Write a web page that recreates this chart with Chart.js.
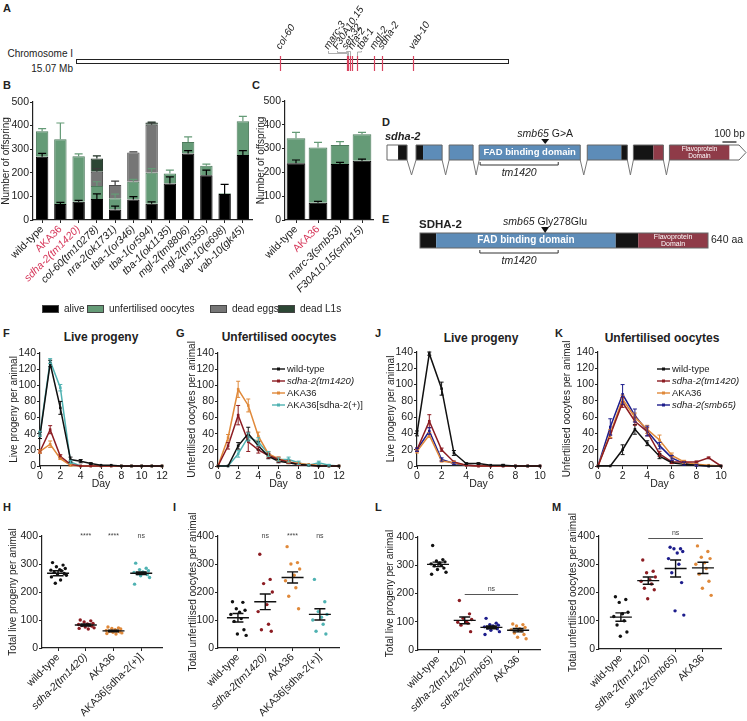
<!DOCTYPE html>
<html>
<head>
<meta charset="utf-8">
<title>sdha-2 figure</title>
<script src="https://cdn.jsdelivr.net/npm/chart.js@4.4.1/dist/chart.umd.min.js"></script>
<style>
body { margin: 0; background: #fff; }
#fig { position: relative; width: 747px; height: 721px; overflow: hidden; font-family: 'Liberation Sans', Arial, sans-serif; color: #222; }
#fig canvas { position: absolute; }
.lbl { position: absolute; font-size: 11px; line-height: 11px; font-weight: bold; }
.ttl { position: absolute; font-size: 12px; line-height: 12px; font-weight: bold; white-space: nowrap; transform: translateX(-50%); }
.txt { position: absolute; font-size: 10px; line-height: 10px; white-space: nowrap; text-align: right; }
.leg { position: absolute; top: 305px; font-size: 10px; line-height: 8px; white-space: nowrap; }
.leg span { display: inline-block; width: 15px; height: 6px; vertical-align: top; margin-right: 5px; border: 1px solid #444; }
</style>
</head>
<body>
<div id="fig">
  <div class="lbl" style="left:3px;top:3px">A</div>
  <div class="lbl" style="left:3px;top:80px">B</div>
  <div class="lbl" style="left:252px;top:80px">C</div>
  <div class="lbl" style="left:382px;top:117px">D</div>
  <div class="lbl" style="left:382px;top:214px">E</div>
  <div class="lbl" style="left:3px;top:328px">F</div>
  <div class="lbl" style="left:176px;top:328px">G</div>
  <div class="lbl" style="left:375px;top:328px">J</div>
  <div class="lbl" style="left:555px;top:328px">K</div>
  <div class="lbl" style="left:3px;top:502px">H</div>
  <div class="lbl" style="left:173px;top:502px">I</div>
  <div class="lbl" style="left:375px;top:502px">L</div>
  <div class="lbl" style="left:552px;top:502px">M</div>

  <div class="txt" style="right:674px;top:49px">Chromosome I</div>
  <div class="txt" style="right:674px;top:64px">15.07 Mb</div>

  <div class="ttl" style="left:101px;top:331px">Live progeny</div>
  <div class="ttl" style="left:279px;top:331px">Unfertilised oocytes</div>
  <div class="ttl" style="left:481px;top:332px">Live progeny</div>
  <div class="ttl" style="left:662px;top:332px">Unfertilised oocytes</div>
</div>

<script>
// ---------- data ----------
// A: gene positions on chromosome I (Mb)
var chromLengthMb = 15.07;
var geneNames = ['col-60', 'marc-3', 'F30A10.15', 'set-32', 'nra-2', 'tba-1', 'mgl-2', 'sdha-2', 'vab-10'];
var genePosMb = [7.12, 9.45, 9.50, 9.55, 9.63, 9.80, 10.40, 10.67, 11.76];

// B: offspring per strain (stacked)
var strainsB = ['wild-type', 'AKA36', 'sdha-2(tm1420)', 'col-60(tm10278)', 'nra-2(ok1731)', 'tba-1(or346)',
  'tba-1(or594)', 'tba-1(ok1135)', 'mgl-2(tm8806)', 'mgl-2(tm355)', 'vab-10(e698)', 'vab-10(gk45)'];
var aliveB = [268, 68, 77, 89, 45, 87, 69, 155, 282, 190, 110, 275];
var aliveErrB = [14, 7, 6, 22, 14, 12, 8, 28, 12, 21, 41, 19];
var unfertB = [108, 274, 193, 55, 47, 75, 131, 42, 49, 40, 3, 143];
var unfertErrB = [11, 69, 10, 18, 18, 10, 18, 14, 21, 7, 0, 21];
var deadEggsB = [0, 0, 0, 60, 56, 124, 204, 0, 0, 0, 0, 0];
var deadEggsErrB = [0, 0, 0, 14, 17, 3, 7, 0, 0, 0, 0, 0];
var deadL1B = [0, 0, 0, 57, 0, 0, 9, 0, 0, 0, 0, 0];
var deadL1ErrB = [0, 0, 0, 11, 0, 0, 2, 0, 0, 0, 0, 0];

// C
var strainsC = ['wild-type', 'AKA36', 'marc-3(smb53)', 'F30A10.15(smb15)'];
var aliveC = [238, 73, 235, 249];
var aliveErrC = [14, 5, 7, 7];
var unfertC = [105, 232, 80, 111];
var unfertErrC = [25, 21, 14, 8];

// D / E: sdha-2 gene model (bp) and SDHA-2 protein (aa)
var exonsD = [[0, 143], [207, 393], [443, 614], [657, 1378], [1428, 1714], [1757, 1971], [2014, 2560]];
var partsD = [[0, 79, 'utr'], [79, 143, 'cds'], [207, 257, 'cds'], [257, 393, 'fad'], [443, 614, 'fad'],
  [657, 1378, 'fad'], [1428, 1671, 'fad'], [1671, 1714, 'cds'], [1757, 1900, 'cds'], [1900, 1971, 'flavo'],
  [2014, 2443, 'flavo'], [2443, 2560, 'utr']];
var smb65Bp = 1128;
var tm1420Bp = [664, 1221];
var scaleBarBp = [2392, 2492];
var partsE = [[0, 36, 'cds'], [36, 435, 'fad'], [435, 485, 'cds'], [485, 640, 'flavo']];
var smb65Aa = 278;
var tm1420Aa = [133, 307];
var proteinLength = 640;

// F / G: per-day counts, tm1420 complementation
var daysFG = [0, 1, 2, 3, 4, 5, 6, 7, 8, 9, 10, 11, 12];
var groupsFG = ['wild-type', 'sdha-2(tm1420)', 'AKA36', 'AKA36[sdha-2(+)]'];
var liveF = [
  [38, 127, 72, 8, 6, 3, 1, 1, 0, 0, 0, 0, 0],
  [18, 45, 12, 2, 0, 0, 0, 0, 0, 0, 0, 0, 0],
  [18, 27, 9, 1, 0, 0, 0, 0, 0, 0, 0, 0, 0],
  [40, 130, 97, 5, 0, 0, 0, 0, 0, 0, 0, 0, 0]
];
var liveErrF = [
  [4, 4, 8, 3, 2, 1, 0, 0, 0, 0, 0, 0, 0],
  [2, 5, 2, 1, 0, 0, 0, 0, 0, 0, 0, 0, 0],
  [2, 4, 1, 1, 0, 0, 0, 0, 0, 0, 0, 0, 0],
  [3, 3, 4, 2, 0, 0, 0, 0, 0, 0, 0, 0, 0]
];
var unfertG = [
  [0, 0, 25, 40, 25, 12, 6, 4, 2, 1, 0, 0, 0],
  [0, 25, 63, 30, 20, 13, 8, 5, 2, 1, 0, 0, 0],
  [0, 35, 95, 75, 37, 15, 9, 5, 3, 2, 1, 0, 0],
  [0, 0, 15, 36, 30, 15, 8, 8, 4, 1, 4, 1, 0]
];
var unfertErrG = [
  [0, 0, 4, 8, 5, 3, 2, 1, 1, 0, 0, 0, 0],
  [0, 4, 12, 12, 4, 3, 3, 2, 1, 0, 0, 0, 0],
  [0, 4, 10, 8, 5, 3, 2, 1, 1, 0, 0, 0, 0],
  [0, 0, 4, 5, 5, 3, 2, 3, 2, 1, 2, 1, 0]
];

// J / K: per-day counts, smb65 allele
var daysJK = [0, 1, 2, 3, 4, 5, 6, 7, 8, 9, 10];
var groupsJK = ['wild-type', 'sdha-2(tm1420)', 'AKA36', 'sdha-2(smb65)'];
var liveJ = [
  [40, 138, 95, 16, 3, 3, 1, 1, 0, 0, 0],
  [20, 55, 20, 5, 1, 0, 0, 0, 0, 0, 0],
  [18, 38, 6, 4, 1, 0, 0, 0, 0, 0, 0],
  [20, 43, 8, 3, 1, 0, 0, 0, 0, 0, 0]
];
var liveErrJ = [
  [3, 2, 8, 3, 1, 1, 0, 1, 0, 0, 0],
  [2, 8, 2, 1, 0, 0, 0, 0, 0, 0, 0],
  [2, 3, 1, 1, 0, 0, 0, 0, 0, 0, 0],
  [2, 4, 2, 1, 0, 0, 0, 0, 0, 0, 0]
];
var unfertK = [
  [0, 0, 20, 45, 28, 12, 4, 2, 1, 0, 0],
  [0, 38, 78, 55, 42, 15, 5, 5, 5, 10, 0],
  [0, 40, 82, 60, 45, 32, 13, 5, 2, 1, 0],
  [0, 48, 88, 62, 43, 25, 10, 3, 1, 0, 0]
];
var unfertErrK = [
  [0, 0, 6, 6, 3, 3, 1, 1, 0, 0, 0],
  [0, 4, 6, 5, 5, 3, 2, 1, 1, 1, 0],
  [0, 5, 5, 5, 5, 6, 3, 2, 1, 0, 0],
  [0, 10, 12, 8, 6, 4, 3, 2, 1, 0, 0]
];

// H / I / L / M: totals per animal
var groupsHI = ['wild-type', 'sdha-2(tm1420)', 'AKA36', 'AKA36[sdha-2(+)]'];
var groupsLM = ['wild-type', 'sdha-2(tm1420)', 'sdha-2(smb65)', 'AKA36'];
var totalLiveH = [
  [305, 296, 290, 284, 280, 278, 276, 270, 266, 264, 260, 254, 243, 231],
  [100, 97, 93, 88, 86, 84, 82, 80, 78, 75, 72, 70, 68],
  [75, 72, 70, 68, 65, 63, 61, 60, 58, 56, 54, 52, 50],
  [303, 285, 280, 276, 272, 270, 268, 265, 262, 258, 252, 228]
];
var meanH = [267, 82, 61, 267];
var semH = [9, 4, 3, 5];
var sigH = ['', '****', '****', 'ns'];
var totalUnfertI = [
  [165, 163, 140, 135, 128, 120, 105, 95, 65, 50, 45],
  [335, 245, 230, 200, 155, 130, 85, 65, 60],
  [362, 305, 300, 282, 260, 240, 215, 185, 140],
  [245, 165, 130, 120, 110, 100, 85, 60, 50]
];
var meanI = [108, 165, 252, 120];
var semI = [15, 28, 20, 20];
var sigI = ['', 'ns', '****', 'ns'];
var totalLiveL = [
  [370, 320, 315, 312, 308, 305, 300, 298, 290, 285, 275, 268],
  [175, 128, 112, 108, 100, 98, 95, 88, 65],
  [112, 95, 90, 88, 85, 82, 80, 78, 75, 70, 65, 55],
  [92, 90, 85, 80, 75, 72, 68, 60, 55, 45, 40]
];
var meanL = [303, 105, 80, 70];
var semL = [8, 12, 5, 6];
var totalUnfertM = [
  [185, 175, 165, 130, 125, 115, 100, 85, 60, 45],
  [315, 275, 270, 255, 245, 240, 230, 215, 210, 178],
  [360, 355, 355, 345, 340, 320, 300, 270, 235, 135, 120],
  [365, 345, 325, 320, 305, 300, 285, 265, 240, 215, 190]
];
var meanM = [113, 242, 285, 287];
var semM = [15, 13, 30, 20];

// ---------- styles ----------
var FAMILY = "'Liberation Sans', Arial, sans-serif";
var INK = '#222';
var RED_TXT = '#d6375a';
var C_WT = '#111111', C_TM = '#8c1c22', C_AKA = '#e0893a', C_RESC = '#4fb2b2', C_SMB = '#1d1d8c';
var C_ALIVE = '#000000', C_UNF = '#659b77', C_EGG = '#767676', C_L1 = '#2c4634';
var DOM = { utr: '#ffffff', cds: '#141414', fad: '#5d8cb8', flavo: '#8f3b48' };
// layout offsets for the chromosome labels (px) and dot jitter (in category units)
var geneLabelDx = [0, -19, -11, -4, 0, 4, 0, 0, 0];
var geneLeaderY = [0, 53.5, 52.5, 51.5, 0, 52, 0, 0, 0];
var jitter = [-0.2, 0.18, -0.06, 0.26, 0.06, -0.26, 0.12, -0.14, 0.22, -0.02, 0.3, -0.24, 0.09, -0.1];

Chart.defaults.font.family = FAMILY;
Chart.defaults.font.size = 10;
Chart.defaults.color = INK;
Chart.defaults.animation = false;
Chart.defaults.responsive = false;
Chart.defaults.devicePixelRatio = 1;
Chart.defaults.plugins.legend.display = false;
Chart.defaults.plugins.tooltip.enabled = false;

var fig = document.getElementById('fig');

function makeCanvas(box) {
  var c = document.createElement('canvas');
  c.width = box.w; c.height = box.h;
  c.style.left = box.x + 'px'; c.style.top = box.y + 'px';
  c.style.width = box.w + 'px'; c.style.height = box.h + 'px';
  fig.appendChild(c);
  return c;
}

// padding so that the plot area lands on page coordinates
function pad(box, area) {
  return { left: 0, top: area.top - box.y, right: box.x + box.w - area.right, bottom: 0 };
}

function yAxis(max, step, width) {
  return {
    min: 0, max: max,
    ticks: { stepSize: step, padding: 1, color: INK, font: { size: 10.5 } },
    grid: { drawOnChartArea: false, tickLength: 3, color: INK, lineWidth: 1 },
    border: { color: INK, width: 1.2 },
    afterFit: function(s) { s.width = width; s.paddingTop = 0; s.paddingBottom = 0; }
  };
}

// y axis title drawn at full length (the built-in one squeezes long text)
function yTitle(text) {
  return {
    id: 'yTitle',
    afterDraw: function(chart) {
      var ctx = chart.ctx, a = chart.chartArea;
      ctx.save();
      ctx.translate(6, (a.top + a.bottom) / 2);
      ctx.rotate(-Math.PI / 2);
      ctx.font = '10px ' + FAMILY; ctx.fillStyle = INK;
      ctx.textAlign = 'center'; ctx.textBaseline = 'middle';
      ctx.fillText(text, 0, 0);
      ctx.restore();
    }
  };
}

function dayAxis(max, height) {
  return {
    type: 'linear', min: 0, max: max,
    ticks: { stepSize: 2, padding: 1, maxRotation: 0, color: INK, font: { size: 10.5 } },
    grid: { drawOnChartArea: false, tickLength: 3, color: INK, lineWidth: 1 },
    border: { color: INK, width: 1.2 },
    title: { display: true, text: 'Day', padding: 0, color: INK, font: { size: 10.5 } },
    afterFit: function(s) { s.height = height; s.paddingLeft = 0; s.paddingRight = 0; }
  };
}

function nameAxis(height, italic, red) {
  return {
    stacked: true,
    grid: { offset: false, drawOnChartArea: false, tickLength: 3, color: INK, lineWidth: 1 },
    border: { color: INK, width: 1.2 },
    ticks: {
      autoSkip: false, minRotation: 45, maxRotation: 45, padding: 0,
      color: function(c) { return red[c.index] ? RED_TXT : INK; },
      font: function(c) { return { size: 10.5, style: italic[c.index] ? 'italic' : 'normal' }; }
    },
    afterFit: function(s) { s.height = height; s.paddingLeft = 0; s.paddingRight = 0; }
  };
}

function groupAxis(labels, italic, min, max, height) {
  return {
    type: 'linear', min: min, max: max,
    afterBuildTicks: function(s) { s.ticks = labels.map(function(l, i) { return { value: i }; }); },
    grid: { drawOnChartArea: false, tickLength: 3, color: INK, lineWidth: 1 },
    border: { color: INK, width: 1.2 },
    ticks: {
      autoSkip: false, minRotation: 45, maxRotation: 45, padding: 0, color: INK,
      callback: function(v, i) { return labels[i]; },
      font: function(c) { return { size: 10.5, style: italic[c.index] ? 'italic' : 'normal' }; }
    },
    afterFit: function(s) { s.height = height; s.paddingLeft = 0; s.paddingRight = 0; }
  };
}

// error bars from dataset.errors, drawn on top of all marks
var errorBars = {
  id: 'errorBars',
  afterDatasetsDraw: function(chart) {
    var ctx = chart.ctx, y = chart.scales.y;
    chart.data.datasets.forEach(function(ds, di) {
      if (!ds.errors) return;
      var meta = chart.getDatasetMeta(di);
      ctx.save();
      ctx.strokeStyle = ds.errorColor || ds.borderColor;
      ctx.lineWidth = ds.errorWidth || 1.2;
      meta.data.forEach(function(el, i) {
        var e = ds.errors[i];
        if (!e) return;
        var len = y.getPixelForValue(0) - y.getPixelForValue(e);
        var top = el.y - len, bot = ds.upOnly ? el.y : el.y + len;
        var cap = ds.capWidth || 5;
        ctx.beginPath();
        ctx.moveTo(el.x, top); ctx.lineTo(el.x, bot);
        ctx.moveTo(el.x - cap / 2, top); ctx.lineTo(el.x + cap / 2, top);
        if (!ds.upOnly) { ctx.moveTo(el.x - cap / 2, bot); ctx.lineTo(el.x + cap / 2, bot); }
        ctx.stroke();
      });
      ctx.restore();
    });
  }
};

// legend inside the line panels
function lineLegend(dx, dy, rowH) {
  return {
    id: 'lineLegend',
    afterDraw: function(chart) {
      var ctx = chart.ctx, a = chart.chartArea;
      chart.data.datasets.forEach(function(ds, i) {
        var x = a.left + dx, y = a.top + dy + i * rowH;
        ctx.save();
        ctx.strokeStyle = ds.borderColor; ctx.lineWidth = 1.4;
        ctx.beginPath(); ctx.moveTo(x, y); ctx.lineTo(x + 13, y); ctx.stroke();
        ctx.fillStyle = ds.borderColor; ctx.fillRect(x + 5, y - 1.5, 3, 3);
        ctx.fillStyle = INK; ctx.textBaseline = 'middle'; ctx.textAlign = 'left';
        ctx.font = (ds.italic ? 'italic ' : '') + '9.5px ' + FAMILY;
        ctx.fillText(ds.label, x + 15, y);
        ctx.restore();
      });
    }
  };
}

// mean +- SEM and significance marks on the dot plots
function meanSem(means, sems, sig, bar) {
  return {
    id: 'meanSem',
    afterDatasetsDraw: function(chart) {
      var ctx = chart.ctx, xs = chart.scales.x, ys = chart.scales.y;
      ctx.save();
      ctx.strokeStyle = '#111'; ctx.lineWidth = 1.4;
      means.forEach(function(m, i) {
        var cx = xs.getPixelForValue(i);
        var my = ys.getPixelForValue(m);
        var hi = ys.getPixelForValue(m + sems[i]), lo = ys.getPixelForValue(m - sems[i]);
        ctx.beginPath();
        ctx.moveTo(cx - 11, my); ctx.lineTo(cx + 11, my);
        ctx.moveTo(cx, hi); ctx.lineTo(cx, lo);
        ctx.moveTo(cx - 5.5, hi); ctx.lineTo(cx + 5.5, hi);
        ctx.moveTo(cx - 5.5, lo); ctx.lineTo(cx + 5.5, lo);
        ctx.stroke();
      });
      ctx.fillStyle = '#444'; ctx.font = '7px ' + FAMILY;
      ctx.textAlign = 'center'; ctx.textBaseline = 'middle';
      if (sig) {
        sig.forEach(function(s, i) {
          if (s) ctx.fillText(s, xs.getPixelForValue(i), ys.getPixelForValue(400));
        });
      }
      if (bar) {
        var by = Math.round(ys.getPixelForValue(bar.y)) + 0.5;
        ctx.strokeStyle = '#555'; ctx.lineWidth = 1;
        ctx.beginPath();
        ctx.moveTo(xs.getPixelForValue(bar.from), by); ctx.lineTo(xs.getPixelForValue(bar.to), by);
        ctx.stroke();
        ctx.fillText(bar.text, (xs.getPixelForValue(bar.from) + xs.getPixelForValue(bar.to)) / 2, by - 5);
      }
      ctx.restore();
    }
  };
}

// ---------- A: chromosome ----------
var chromPlugin = {
  id: 'chrom',
  afterDraw: function(chart) {
    var ctx = chart.ctx, xs = chart.scales.x;
    var x0 = xs.getPixelForValue(0), x1 = xs.getPixelForValue(chromLengthMb);
    ctx.save();
    ctx.fillStyle = '#fff'; ctx.strokeStyle = '#222'; ctx.lineWidth = 1;
    ctx.fillRect(x0, 59, x1 - x0, 4);
    ctx.strokeRect(Math.round(x0) + 0.5, 59.5, Math.round(x1 - x0), 4);
    genePosMb.forEach(function(p, i) {
      var mx = Math.round(xs.getPixelForValue(p)) + 0.5;
      var lx = mx + geneLabelDx[i];
      if (geneLeaderY[i]) {
        ctx.strokeStyle = '#9a9a9a'; ctx.lineWidth = 0.8;
        ctx.beginPath();
        ctx.moveTo(lx, 51); ctx.lineTo(lx, geneLeaderY[i]);
        ctx.lineTo(mx, geneLeaderY[i]); ctx.lineTo(mx, 56);
        ctx.stroke();
      }
      ctx.strokeStyle = '#d94460'; ctx.lineWidth = 1.2;
      ctx.beginPath(); ctx.moveTo(mx, 56); ctx.lineTo(mx, 71); ctx.stroke();
      ctx.save();
      ctx.translate(lx, 50); ctx.rotate(-57 * Math.PI / 180);
      ctx.font = 'italic 10px ' + FAMILY; ctx.fillStyle = INK;
      ctx.textAlign = 'left'; ctx.textBaseline = 'alphabetic';
      ctx.fillText(geneNames[i], 0, 0);
      ctx.restore();
    });
    ctx.restore();
  }
};
new Chart(makeCanvas({ x: 0, y: 0, w: 520, h: 80 }), {
  type: 'scatter',
  data: { datasets: [{ data: genePosMb.map(function(p) { return { x: p, y: 0 }; }), pointRadius: 0 }] },
  options: {
    layout: { autoPadding: false, padding: { left: 76, right: 12, top: 0, bottom: 0 } },
    scales: { x: { display: false, min: 0, max: chromLengthMb }, y: { display: false, min: -1, max: 1 } }
  },
  plugins: [chromPlugin]
});

// ---------- B and C: stacked bars ----------
function barSet(label, data, errs, fill, edge, errColor) {
  return {
    label: label, data: data, errors: errs, upOnly: true, errorColor: errColor, capWidth: 8,
    backgroundColor: fill, borderColor: edge,
    borderWidth: function(c) { return c.raw ? 1 : 0; },
    barPercentage: 0.68, categoryPercentage: 1
  };
}

var boxB = { x: 0, y: 95, w: 256, h: 210 };
var areaB = { left: 33, right: 252, top: 102, bottom: 220 };
new Chart(makeCanvas(boxB), {
  type: 'bar',
  data: {
    labels: strainsB,
    datasets: [
      barSet('alive', aliveB, aliveErrB, C_ALIVE, '#000', '#000'),
      barSet('unfertilised oocytes', unfertB, unfertErrB, C_UNF, '#4d7a5c', C_UNF),
      barSet('dead eggs', deadEggsB, deadEggsErrB, C_EGG, '#4a4a4a', '#3a3a3a'),
      barSet('dead L1s', deadL1B, deadL1ErrB, C_L1, '#1c2e22', '#1c2e22')
    ]
  },
  options: {
    layout: { autoPadding: false, padding: pad(boxB, areaB) },
    scales: {
      x: nameAxis(boxB.y + boxB.h - areaB.bottom,
        [false, false, true, true, true, true, true, true, true, true, true, true],
        [false, true, true, false, false, false, false, false, false, false, false, false]),
      y: Object.assign(yAxis(500, 100, areaB.left - boxB.x), { stacked: true })
    }
  },
  plugins: [errorBars, yTitle('Number of offspring')]
});

var boxC = { x: 255, y: 95, w: 124, h: 210 };
var areaC = { left: 285, right: 373, top: 101, bottom: 220 };
var cBars = [
  barSet('alive', aliveC, aliveErrC, C_ALIVE, '#000', '#000'),
  barSet('unfertilised oocytes', unfertC, unfertErrC, C_UNF, '#4d7a5c', C_UNF)
];
cBars.forEach(function(d) { d.barPercentage = 0.85; });
new Chart(makeCanvas(boxC), {
  type: 'bar',
  data: { labels: strainsC, datasets: cBars },
  options: {
    layout: { autoPadding: false, padding: pad(boxC, areaC) },
    scales: {
      x: nameAxis(boxC.y + boxC.h - areaC.bottom, [false, false, true, true], [false, true, false, false]),
      y: Object.assign(yAxis(500, 100, areaC.left - boxC.x), { stacked: true })
    }
  },
  plugins: [errorBars, yTitle('Number of offspring')]
});

// legend under B and C
var legendLabels = ['alive', 'unfertilised oocytes', 'dead eggs', 'dead L1s'];
var legendFill = [C_ALIVE, C_UNF, C_EGG, C_L1];
var legendX = [42, 87, 210, 278];
legendLabels.forEach(function(l, i) {
  var d = document.createElement('div');
  d.className = 'leg';
  d.style.left = legendX[i] + 'px';
  d.innerHTML = '<span style="background:' + legendFill[i] + '"></span>' + l;
  fig.appendChild(d);
});

// ---------- D: gene model ----------
function drawText(ctx, s, x, y, font, color, align) {
  ctx.font = font + ' ' + FAMILY;
  ctx.fillStyle = color || INK;
  ctx.textAlign = align || 'left';
  ctx.textBaseline = 'middle';
  ctx.fillText(s, x, y);
}
function mutationLabel(ctx, cx, y, ital, rest) {
  ctx.font = 'italic 10.5px ' + FAMILY;
  var w1 = ctx.measureText(ital).width;
  ctx.font = '10.5px ' + FAMILY;
  var w2 = ctx.measureText(rest).width;
  var x = cx - (w1 + w2) / 2;
  drawText(ctx, ital, x, y, 'italic 10.5px');
  drawText(ctx, rest, x + w1, y, '10.5px');
}
function triangle(ctx, cx, base, apex) {
  ctx.fillStyle = '#111';
  ctx.beginPath(); ctx.moveTo(cx - 4, base); ctx.lineTo(cx + 4, base); ctx.lineTo(cx, apex); ctx.closePath(); ctx.fill();
}
function bracket(ctx, x0, x1, y, label) {
  ctx.strokeStyle = '#333'; ctx.lineWidth = 1;
  ctx.beginPath();
  ctx.moveTo(x0, y - 3); ctx.lineTo(x0, y); ctx.lineTo(x1, y); ctx.lineTo(x1, y - 3);
  ctx.stroke();
  drawText(ctx, label, (x0 + x1) / 2, y + 8, 'italic 10.5px', INK, 'center');
}

var genePlugin = {
  id: 'geneModel',
  afterDraw: function(chart) {
    var ctx = chart.ctx, xs = chart.scales.x;
    function px(v) { return xs.getPixelForValue(v); }
    var top = 30, bot = 45, apex = 60, last = exonsD.length - 1;
    ctx.save();
    drawText(ctx, 'sdha-2', 5, 22, 'bold italic 11px');
    // introns
    ctx.strokeStyle = '#777'; ctx.lineWidth = 1;
    for (var i = 0; i < last; i++) {
      var a = px(exonsD[i][1]), b = px(exonsD[i + 1][0]);
      ctx.beginPath(); ctx.moveTo(a, bot); ctx.lineTo((a + b) / 2, apex); ctx.lineTo(b, bot); ctx.stroke();
    }
    // exon parts
    partsD.forEach(function(p) {
      ctx.fillStyle = DOM[p[2]];
      var x0 = px(p[0]), x1 = px(p[1]);
      if (p[1] === exonsD[last][1]) {
        ctx.beginPath();
        ctx.moveTo(x0, top); ctx.lineTo(x1 - 7, top); ctx.lineTo(x1, (top + bot) / 2);
        ctx.lineTo(x1 - 7, bot); ctx.lineTo(x0, bot); ctx.closePath(); ctx.fill();
      } else {
        ctx.fillRect(x0, top, x1 - x0, bot - top);
      }
    });
    // exon outlines
    ctx.strokeStyle = '#666'; ctx.lineWidth = 1;
    exonsD.forEach(function(e, k) {
      var x0 = px(e[0]), x1 = px(e[1]);
      ctx.beginPath();
      if (k === last) {
        ctx.moveTo(x0, top); ctx.lineTo(x1 - 7, top); ctx.lineTo(x1, (top + bot) / 2);
        ctx.lineTo(x1 - 7, bot); ctx.lineTo(x0, bot); ctx.closePath();
      } else {
        ctx.rect(x0, top, x1 - x0, bot - top);
      }
      ctx.stroke();
    });
    drawText(ctx, 'FAD binding domain', (px(657) + px(1378)) / 2, (top + bot) / 2, 'bold 9.5px', '#fff', 'center');
    drawText(ctx, 'Flavoprotein', (px(2014) + px(2443)) / 2, top + 4.5, '6.5px', '#fff', 'center');
    drawText(ctx, 'Domain', (px(2014) + px(2443)) / 2, top + 11, '6.5px', '#fff', 'center');
    mutationLabel(ctx, px(smb65Bp), 19, 'smb65', ' G>A');
    triangle(ctx, px(smb65Bp), 24, 29);
    bracket(ctx, px(tm1420Bp[0]), px(tm1420Bp[1]), 50, 'tm1420');
    // scale bar
    ctx.strokeStyle = '#111'; ctx.lineWidth = 1.2;
    ctx.beginPath(); ctx.moveTo(px(scaleBarBp[0]), 27); ctx.lineTo(px(scaleBarBp[1]), 27); ctx.stroke();
    drawText(ctx, '100 bp', (px(scaleBarBp[0]) + px(scaleBarBp[1])) / 2, 19, '10px', INK, 'center');
    ctx.restore();
  }
};
new Chart(makeCanvas({ x: 380, y: 115, w: 367, h: 75 }), {
  type: 'scatter',
  data: { datasets: [{ data: [{ x: smb65Bp, y: 0 }], pointRadius: 0 }] },
  options: {
    layout: { autoPadding: false, padding: { left: 7, right: 1, top: 0, bottom: 0 } },
    scales: { x: { display: false, min: 0, max: 2560 }, y: { display: false, min: 0, max: 1 } }
  },
  plugins: [genePlugin]
});

// ---------- E: protein ----------
var proteinPlugin = {
  id: 'protein',
  afterDraw: function(chart) {
    var ctx = chart.ctx, xs = chart.scales.x;
    function px(v) { return xs.getPixelForValue(v); }
    var top = 28, bot = 43;
    ctx.save();
    drawText(ctx, 'SDHA-2', 39, 20, 'bold 11.5px');
    partsE.forEach(function(p) {
      ctx.fillStyle = DOM[p[2]];
      ctx.fillRect(px(p[0]), top, px(p[1]) - px(p[0]), bot - top);
    });
    ctx.strokeStyle = '#666'; ctx.lineWidth = 1;
    ctx.strokeRect(px(0), top, px(proteinLength) - px(0), bot - top);
    drawText(ctx, 'FAD binding domain', (px(36) + px(435)) / 2, (top + bot) / 2, 'bold 10px', '#fff', 'center');
    drawText(ctx, 'Flavoprotein', (px(485) + px(640)) / 2, top + 4.5, '7px', '#fff', 'center');
    drawText(ctx, 'Domain', (px(485) + px(640)) / 2, top + 11, '7px', '#fff', 'center');
    drawText(ctx, proteinLength + ' aa', px(proteinLength) + 3, 35, '10.5px');
    mutationLabel(ctx, px(smb65Aa), 17, 'smb65', ' Gly278Glu');
    triangle(ctx, px(smb65Aa), 22, 28);
    bracket(ctx, px(tm1420Aa[0]), px(tm1420Aa[1]), 48, 'tm1420');
    ctx.restore();
  }
};
new Chart(makeCanvas({ x: 380, y: 205, w: 367, h: 65 }), {
  type: 'scatter',
  data: { datasets: [{ data: [{ x: smb65Aa, y: 0 }], pointRadius: 0 }] },
  options: {
    layout: { autoPadding: false, padding: { left: 40, right: 39, top: 0, bottom: 0 } },
    scales: { x: { display: false, min: 0, max: proteinLength }, y: { display: false, min: 0, max: 1 } }
  },
  plugins: [proteinPlugin]
});

// ---------- F, G, J, K: progeny per day ----------
function lineSets(names, days, values, errs, colors, italic) {
  return names.map(function(n, g) {
    return {
      label: n, italic: italic[g],
      data: values[g].map(function(v, i) { return { x: days[i], y: v }; }),
      errors: errs[g], errorColor: colors[g], errorWidth: 1, capWidth: 4,
      borderColor: colors[g], backgroundColor: colors[g],
      borderWidth: 1.5, pointStyle: 'rect', pointRadius: 1.8, pointBorderWidth: 0,
      tension: 0, clip: false
    };
  });
}

function lineChart(box, area, days, sets, title, legend) {
  var plugins = [errorBars, yTitle(title)];
  if (legend) plugins.push(legend);
  return new Chart(makeCanvas(box), {
    type: 'line',
    data: { datasets: sets },
    options: {
      layout: { autoPadding: false, padding: pad(box, area) },
      scales: {
        x: dayAxis(days[days.length - 1], box.y + box.h - area.bottom),
        y: yAxis(140, 20, area.left - box.x)
      }
    },
    plugins: plugins
  });
}

var colorsFG = [C_WT, C_TM, C_AKA, C_RESC];
var colorsJK = [C_WT, C_TM, C_AKA, C_SMB];
var italicFG = [false, true, false, false];
var italicJK = [false, true, false, true];

lineChart({ x: 8, y: 330, w: 166, h: 160 }, { left: 40, right: 162, top: 353, bottom: 466 }, daysFG,
  lineSets(groupsFG, daysFG, liveF, liveErrF, colorsFG, italicFG), 'Live progeny per animal');
lineChart({ x: 186, y: 330, w: 180, h: 160 }, { left: 218, right: 339, top: 353, bottom: 466 }, daysFG,
  lineSets(groupsFG, daysFG, unfertG, unfertErrG, colorsFG, italicFG), 'Unfertilised oocytes per animal',
  lineLegend(54, 16, 12));
lineChart({ x: 385, y: 330, w: 165, h: 160 }, { left: 417, right: 540, top: 352, bottom: 466 }, daysJK,
  lineSets(groupsJK, daysJK, liveJ, liveErrJ, colorsJK, italicJK), 'Live progeny per animal');
lineChart({ x: 561, y: 330, w: 186, h: 160 }, { left: 598, right: 721, top: 352, bottom: 466 }, daysJK,
  lineSets(groupsJK, daysJK, unfertK, unfertErrK, colorsJK, italicJK), 'Unfertilised oocytes per animal',
  lineLegend(59, 17, 12));

// ---------- H, I, L, M: totals per animal ----------
function dotChart(box, area, xmin, xmax, labels, italic, groups, colors, title, plugin) {
  return new Chart(makeCanvas(box), {
    type: 'scatter',
    data: {
      datasets: groups.map(function(vals, g) {
        return {
          data: vals.map(function(v, j) { return { x: g + jitter[j % jitter.length], y: v }; }),
          backgroundColor: colors[g], borderColor: colors[g], pointRadius: 1.7, pointBorderWidth: 0, clip: false
        };
      })
    },
    options: {
      layout: { autoPadding: false, padding: pad(box, area) },
      scales: {
        x: groupAxis(labels, italic, xmin, xmax, box.y + box.h - area.bottom),
        y: yAxis(400, 100, area.left - box.x)
      }
    },
    plugins: [plugin, yTitle(title)]
  });
}

var italicHI = [false, true, false, false];
var italicLM = [false, true, true, false];

dotChart({ x: 7, y: 495, w: 170, h: 226 }, { left: 42, right: 162, top: 536, bottom: 648 }, -0.58, 3.75,
  groupsHI, italicHI, totalLiveH, [C_WT, C_TM, C_AKA, C_RESC], 'Total live progeny per animal',
  meanSem(meanH, semH, sigH, null));
dotChart({ x: 187, y: 495, w: 165, h: 226 }, { left: 218, right: 339, top: 536, bottom: 648 }, -0.73, 3.7,
  groupsHI, italicHI, totalUnfertI, [C_WT, C_TM, C_AKA, C_RESC], 'Total unfertilised oocytes per animal',
  meanSem(meanI, semI, sigI, null));
dotChart({ x: 384, y: 495, w: 165, h: 226 }, { left: 418, right: 540, top: 537, bottom: 650 }, -0.75, 3.82,
  groupsLM, italicLM, totalLiveL, [C_WT, C_TM, C_SMB, C_AKA], 'Total live progeny per animal',
  meanSem(meanL, semL, null, { from: 1, to: 3, y: 200, text: 'ns' }));
dotChart({ x: 567, y: 495, w: 180, h: 226 }, { left: 599, right: 721, top: 536, bottom: 649 }, -0.8, 3.66,
  groupsLM, italicLM, totalUnfertM, [C_WT, C_TM, C_SMB, C_AKA], 'Total unfertilised oocytes per animal',
  meanSem(meanM, semM, null, { from: 1, to: 3, y: 393, text: 'ns' }));
</script>
</body>
</html>
